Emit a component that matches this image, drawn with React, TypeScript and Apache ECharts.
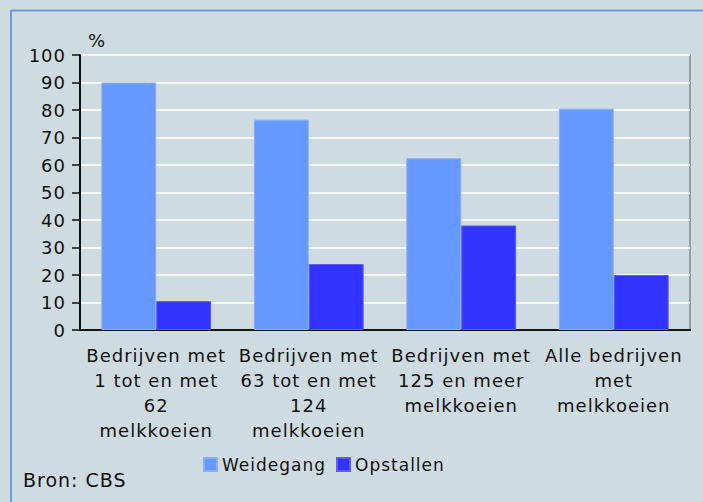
import React, { useEffect, useRef } from "react";
import * as echarts from "echarts";

const categories = [
  "Bedrijven met\n1 tot en met\n62\nmelkkoeien",
  "Bedrijven met\n63 tot en met\n124\nmelkkoeien",
  "Bedrijven met\n125 en meer\nmelkkoeien",
  "Alle bedrijven\nmet\nmelkkoeien",
];
const weidegang = [90, 76.5, 62.5, 80.5];
const opstallen = [10.5, 24, 38, 20];
const seriesNames = ["Weidegang", "Opstallen"];
const yTicks = { min: 0, max: 100, interval: 10 };

const FONT = "DejaVu Sans, Verdana, sans-serif";

export default function App() {
  const ref = useRef<HTMLDivElement>(null);
  useEffect(() => {
    if (!ref.current) return;
    const chart = echarts.init(ref.current, null, { renderer: "svg" });
    chart.setOption({
      animation: false,
      backgroundColor: "#CEDCE1",
      textStyle: { fontFamily: FONT },
      grid: { left: 80, right: 13, top: 55, bottom: 172, containLabel: false, show: true, borderColor: "#8a8a8a", borderWidth: 1.5, backgroundColor: "transparent" },
      graphic: [
        { type: "line", shape: { x1: 11, y1: 10.5, x2: 703, y2: 10.5 }, style: { stroke: "#6E9BD3", lineWidth: 2 } },
        { type: "line", shape: { x1: 11, y1: 10, x2: 11, y2: 502 }, style: { stroke: "#6E9BD3", lineWidth: 2 } },
        { type: "text", left: 88, top: 31, style: { text: "%", fontSize: 18, fontFamily: FONT, fill: "#111" } },
        { type: "text", left: 23, top: 470, style: { text: "Bron: CBS", fontSize: 19, fontFamily: FONT, fill: "#111" } },
      ],
      legend: {
        data: seriesNames,
        left: 203,
        top: 456,
        padding: 0,
        itemWidth: 13,
        itemHeight: 13,
        itemGap: 19,
        icon: "rect",
        textStyle: { fontSize: 17, fontFamily: FONT, color: "#111" },
      },
      xAxis: {
        type: "category",
        data: categories,
        axisLine: { lineStyle: { color: "#111", width: 2 } },
        axisTick: { show: false },
        axisLabel: { color: "#111", fontSize: 18, fontFamily: FONT, lineHeight: 25, margin: 13, interval: 0 },
      },
      yAxis: {
        type: "value",
        min: yTicks.min,
        max: yTicks.max,
        interval: yTicks.interval,
        axisLine: { show: true, lineStyle: { color: "#111", width: 2 } },
        axisTick: { show: true, length: 8, lineStyle: { color: "#111", width: 1.5 } },
        axisLabel: { color: "#111", fontSize: 18, fontFamily: FONT, margin: 14 },
        splitLine: { lineStyle: { color: "#F4F7F8", width: 2 } },
      },
      series: [
        {
          name: seriesNames[0],
          type: "bar",
          data: weidegang,
          barGap: "0%",
          barCategoryGap: "28%",
          itemStyle: { color: "#6699FF", borderColor: "#8AAEF5", borderWidth: 1 },
        },
        {
          name: seriesNames[1],
          type: "bar",
          data: opstallen,
          itemStyle: { color: "#3333FF", borderColor: "#5A5AF0", borderWidth: 1 },
        },
      ],
    });
    return () => chart.dispose();
  }, []);
  return (
    <>
      <style>{`.cbs-chart text { letter-spacing: 1px; }`}</style>
      <div className="cbs-chart" ref={ref} style={{ position: "fixed", left: 0, top: 0, width: 703, height: 502 }} />
    </>
  );
}
